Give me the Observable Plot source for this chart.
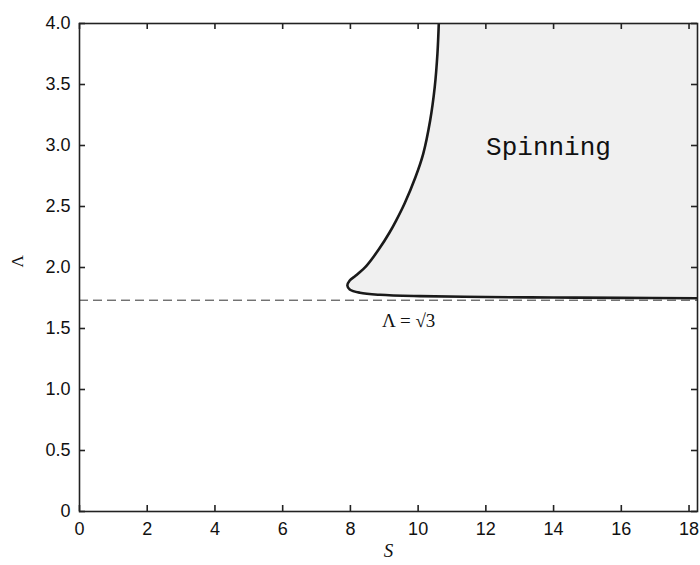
<!DOCTYPE html>
<html>
<head>
<meta charset="utf-8">
<script src="https://cdn.jsdelivr.net/npm/d3@7"></script>
<script src="https://cdn.jsdelivr.net/npm/@observablehq/plot@0.6"></script>
<style>
  html, body { margin: 0; padding: 0; background: #fff; }
</style>
</head>
<body>
<div id="chart"></div>
<script>
// Boundary of the "Spinning" region (S, Λ), from top edge down around the nose to the right edge
const boundaryS = [10.61, 10.57, 10.49, 10.355, 10.15, 9.92, 9.60, 9.35, 9.16, 8.85, 8.48, 8.16, 7.98, 7.91, 7.98, 8.28, 8.87, 10.05, 12.0, 14.0, 16.0, 18.25];
const boundaryL = [4.00, 3.752, 3.478, 3.205, 2.932, 2.74, 2.525, 2.385, 2.289, 2.153, 2.016, 1.934, 1.893, 1.852, 1.82, 1.793, 1.776, 1.765, 1.758, 1.754, 1.751, 1.748];

const xDomain = [0, 18.25];
const yDomain = [0, 4];
const xTicks = [0, 2, 4, 6, 8, 10, 12, 14, 16, 18];
const yTicks = [0, 0.5, 1.0, 1.5, 2.0, 2.5, 3.0, 3.5, 4.0];
const dashedLevel = [Math.sqrt(3)];

const regionLabel = ["Spinning"];
const regionLabelS = [13.85];
const regionLabelL = [2.99];

const levelLabel = ["Λ = √3"];
const levelLabelS = [9.72];
const levelLabelL = [1.565];

const xLabel = "S";
const yLabel = "Λ";

const boundary = boundaryS.map((s, i) => ({S: s, L: boundaryL[i]}));
const regionText = regionLabel.map((t, i) => ({t, S: regionLabelS[i], L: regionLabelL[i]}));
const levelText = levelLabel.map((t, i) => ({t, S: levelLabelS[i], L: levelLabelL[i]}));

const W = 700, H = 565;
const mL = 79, mR = 3, mT = 23, mB = 54;
const tickPx = 6;
// tick length converted to data units via the scale spans
const xTickLen = tickPx * (xDomain[1] - xDomain[0]) / (W - mL - mR);
const yTickLen = tickPx * (yDomain[1] - yDomain[0]) / (H - mT - mB);
const axisStroke = "#222";

const chart = Plot.plot({
  width: W,
  height: H,
  marginLeft: mL,
  marginRight: mR,
  marginTop: mT,
  marginBottom: mB,
  style: {fontFamily: "'Liberation Sans', Arial, sans-serif", fontSize: "18px", color: "#222", background: "#fff"},
  x: {domain: xDomain},
  y: {domain: yDomain},
  marks: [
    Plot.areaX(boundary, {y: "L", x1: "S", x2: xDomain[1], fill: "#f0f0f0", curve: "catmull-rom", clip: true}),
    Plot.ruleY(dashedLevel, {stroke: "#333", strokeWidth: 1, strokeDasharray: "9,5"}),
    Plot.line(boundary, {x: "S", y: "L", stroke: "#1a1a1a", strokeWidth: 2.6, curve: "catmull-rom", clip: true}),
    Plot.text(regionText, {x: "S", y: "L", text: "t", fontFamily: "'Liberation Mono', 'Courier New', monospace", fontSize: 26, fill: "#111"}),
    Plot.text(levelText, {x: "S", y: "L", text: "t", fontFamily: "'Liberation Serif', 'Times New Roman', serif", fontSize: 19, fill: "#111"}),
    // inward tick marks on all four sides
    Plot.ruleX(xTicks, {y1: yDomain[0], y2: yDomain[0] + yTickLen, stroke: axisStroke, strokeWidth: 1.6}),
    Plot.ruleX(xTicks, {y1: yDomain[1] - yTickLen, y2: yDomain[1], stroke: axisStroke, strokeWidth: 1.6}),
    Plot.ruleY(yTicks, {x1: xDomain[0], x2: xDomain[0] + xTickLen, stroke: axisStroke, strokeWidth: 1.6}),
    Plot.ruleY(yTicks, {x1: xDomain[1] - xTickLen, x2: xDomain[1], stroke: axisStroke, strokeWidth: 1.6}),
    Plot.frame({stroke: axisStroke, strokeWidth: 1.6}),
    // tick labels
    Plot.axisX(xTicks, {anchor: "bottom", tickSize: 0, tickPadding: 11, fill: "#111", label: null, tickFormat: d => String(d)}),
    Plot.axisY(yTicks, {anchor: "left", tickSize: 0, tickPadding: 9, fill: "#111", label: null, tickFormat: d => d === 0 ? "0" : d.toFixed(1)}),
    // axis titles
    Plot.text([xLabel], {frameAnchor: "bottom", dy: 45, text: d => d, fontFamily: "'Liberation Serif', serif", fontStyle: "italic", fontSize: 19, fill: "#111"}),
    Plot.text([yLabel], {frameAnchor: "left", dx: -62, rotate: -90, text: d => d, fontFamily: "'Liberation Serif', serif", fontSize: 17, fill: "#111"})
  ]
});
document.getElementById("chart").appendChild(chart);
</script>
</body>
</html>
